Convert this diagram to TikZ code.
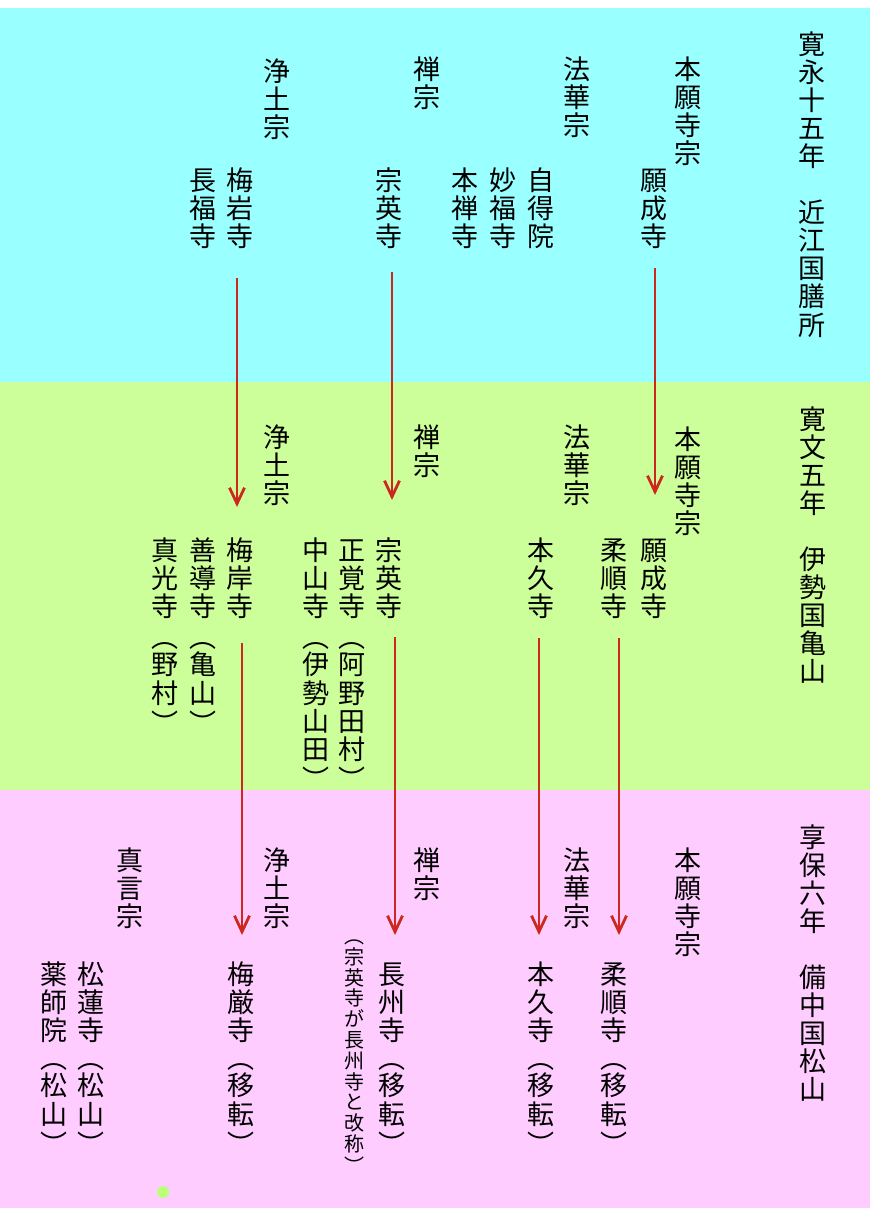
\documentclass[tikz,border=0pt]{standalone}
\usepackage{fontspec}
\usetikzlibrary{arrows.meta,calc}
\newfontfamily\jp{Noto Sans CJK JP}
\XeTeXuseglyphmetrics=1
\definecolor{bandA}{RGB}{153,255,255}
\definecolor{bandB}{RGB}{204,255,153}
\definecolor{bandC}{RGB}{255,204,255}
\definecolor{arrred}{RGB}{205,40,30}
\definecolor{dotgreen}{RGB}{185,255,120}
\makeatletter
\newsavebox\vc@box
\def\po{\relax}\def\pc{\relax}
\def\vc@po{\po}\def\vc@pc{\pc}
\newcommand\vcol[1]{\vbox{\offinterlineskip\@tfor\vc@c:=#1\do{%
  \ifx\vc@c\vc@po\vc@open\else\ifx\vc@c\vc@pc\vc@close\else\vc@cell{\vc@c}\fi\fi}}}
\newcommand\vc@cell[1]{\hbox to 1.04em{\hss\vrule height .86em depth .18em width 0pt\relax#1\hss}}
\newcommand\vc@open{\sbox\vc@box{︵}\hbox to 1.04em{\hss\vbox{\hbox{\usebox\vc@box}\kern .1em}\hss}}
\newcommand\vc@close{\sbox\vc@box{︶}\hbox to 1.04em{\hss\vbox{\kern .1em\hbox{\usebox\vc@box}\kern0pt}\hss}}
\makeatother
\tikzset{
  vt/.style={anchor=north, inner sep=0pt, outer sep=0pt, text=black, font=\jp\fontsize{27}{28}\selectfont},
  vsmall/.style={vt, font=\jp\fontsize{20}{21}\selectfont},
  arr/.style={draw=arrred, line width=2.8pt, -{Straight Barb[length=16pt,width=15pt]}},
}
\begin{document}
\begin{tikzpicture}[x=1pt,y=-1pt]
\useasboundingbox (0,0) rectangle (879,1208);
\fill[white] (0,0) rectangle (879,1208);
\fill[bandA] (0,8) rectangle (870,382);
\fill[bandB] (0,382) rectangle (870,790);
\fill[bandC] (0,790) rectangle (870,1208);
\fill[dotgreen] (163,1192) circle (6pt);

% band 1
\node[vt] (era1) at (812,31) {\vcol{寛永十五年　近江国膳所}};
\node[vt] (hongan1) at (688,56) {\vcol{本願寺宗}};
\node[vt] (hokke1) at (577,56) {\vcol{法華宗}};
\node[vt] (zen1) at (427,56) {\vcol{禅宗}};
\node[vt] (jodo1) at (277,58) {\vcol{浄土宗}};
\node[vt] (gansei1) at (654,167) {\vcol{願成寺}};
\node[vt] (jitoku) at (541,167) {\vcol{自得院}};
\node[vt] (myofuku) at (503,167) {\vcol{妙福寺}};
\node[vt] (honzen) at (465,167) {\vcol{本禅寺}};
\node[vt] (soei1) at (389,167) {\vcol{宗英寺}};
\node[vt] (umeiwa) at (240,167) {\vcol{梅岩寺}};
\node[vt] (chofuku) at (203,167) {\vcol{長福寺}};

% band 2
\node[vt] (era2) at (813,406) {\vcol{寛文五年　伊勢国亀山}};
\node[vt] (hongan2) at (688,426) {\vcol{本願寺宗}};
\node[vt] (hokke2) at (577,424) {\vcol{法華宗}};
\node[vt] (zen2) at (427,424) {\vcol{禅宗}};
\node[vt] (jodo2) at (277,424) {\vcol{浄土宗}};
\node[vt] (gansei2) at (654,537) {\vcol{願成寺}};
\node[vt] (jujun2) at (614,537) {\vcol{柔順寺}};
\node[vt] (honkyu2) at (541,537) {\vcol{本久寺}};
\node[vt] (soei2) at (389,537) {\vcol{宗英寺}};
\node[vt] (shokaku) at (352,537) {\vcol{正覚寺}};
\node[vt] (nakayama) at (316,537) {\vcol{中山寺}};
\node[vt] (baigan2) at (240,537) {\vcol{梅岸寺}};
\node[vt] (zendo) at (203,537) {\vcol{善導寺}};
\node[vt] (shinko) at (165,537) {\vcol{真光寺}};
\node[vt] (panoda) at (352,642) {\vcol{\po 阿野田村\pc}};
\node[vt] (piseyamada) at (316,642) {\vcol{\po 伊勢山田\pc}};
\node[vt] (pkameyama) at (203,642) {\vcol{\po 亀山\pc}};
\node[vt] (pnomura) at (165,642) {\vcol{\po 野村\pc}};

% band 3
\node[vt] (era3) at (813,824) {\vcol{享保六年　備中国松山}};
\node[vt] (hongan3) at (688,847) {\vcol{本願寺宗}};
\node[vt] (hokke3) at (577,847) {\vcol{法華宗}};
\node[vt] (zen3) at (427,847) {\vcol{禅宗}};
\node[vt] (jodo3) at (277,847) {\vcol{浄土宗}};
\node[vt] (shingon) at (130,847) {\vcol{真言宗}};
\node[vt] (jujun3) at (614,961) {\vcol{柔順寺}};
\node[vt] (honkyu3) at (541,961) {\vcol{本久寺}};
\node[vt] (choshu) at (392,961) {\vcol{長州寺}};
\node[vt] (baigen) at (241,961) {\vcol{梅厳寺}};
\node[vt] (shoren) at (91,961) {\vcol{松蓮寺}};
\node[vt] (yakushi) at (54,961) {\vcol{薬師院}};
\node[vt] (pjujun) at (614,1063) {\vcol{\po 移転\pc}};
\node[vt] (phonkyu) at (541,1063) {\vcol{\po 移転\pc}};
\node[vt] (pchoshu) at (392,1063) {\vcol{\po 移転\pc}};
\node[vt] (pbaigen) at (241,1063) {\vcol{\po 移転\pc}};
\node[vt] (pshoren) at (91,1063) {\vcol{\po 松山\pc}};
\node[vt] (pyakushi) at (54,1063) {\vcol{\po 松山\pc}};
\node[vsmall] (note) at (354,940) {\vcol{\po 宗英寺が長州寺と改称\pc}};

% arrows
\draw[arr] ($(umeiwa.south)+(-3,27)$) -- ($(umeiwa.south |- baigan2.north)+(-3,-30)$);
\draw[arr] ($(soei1.south)+(3,21)$) -- ($(soei1.south |- soei2.north)+(3,-37)$);
\draw[arr] ($(gansei1.south)+(1,17)$) -- ($(gansei1.south |- gansei2.north)+(1,-42)$);
\draw[arr] ($(baigan2.south)+(2,22)$) -- ($(baigan2.south |- baigen.north)+(2,-26)$);
\draw[arr] ($(soei2.south)+(6,16)$) -- ($(soei2.south |- choshu.north)+(6,-26)$);
\draw[arr] ($(honkyu2.south)+(-2,17)$) -- ($(honkyu2.south |- honkyu3.north)+(-2,-26)$);
\draw[arr] ($(jujun2.south)+(5,17)$) -- ($(jujun2.south |- jujun3.north)+(5,-26)$);
\end{tikzpicture}
\end{document}
